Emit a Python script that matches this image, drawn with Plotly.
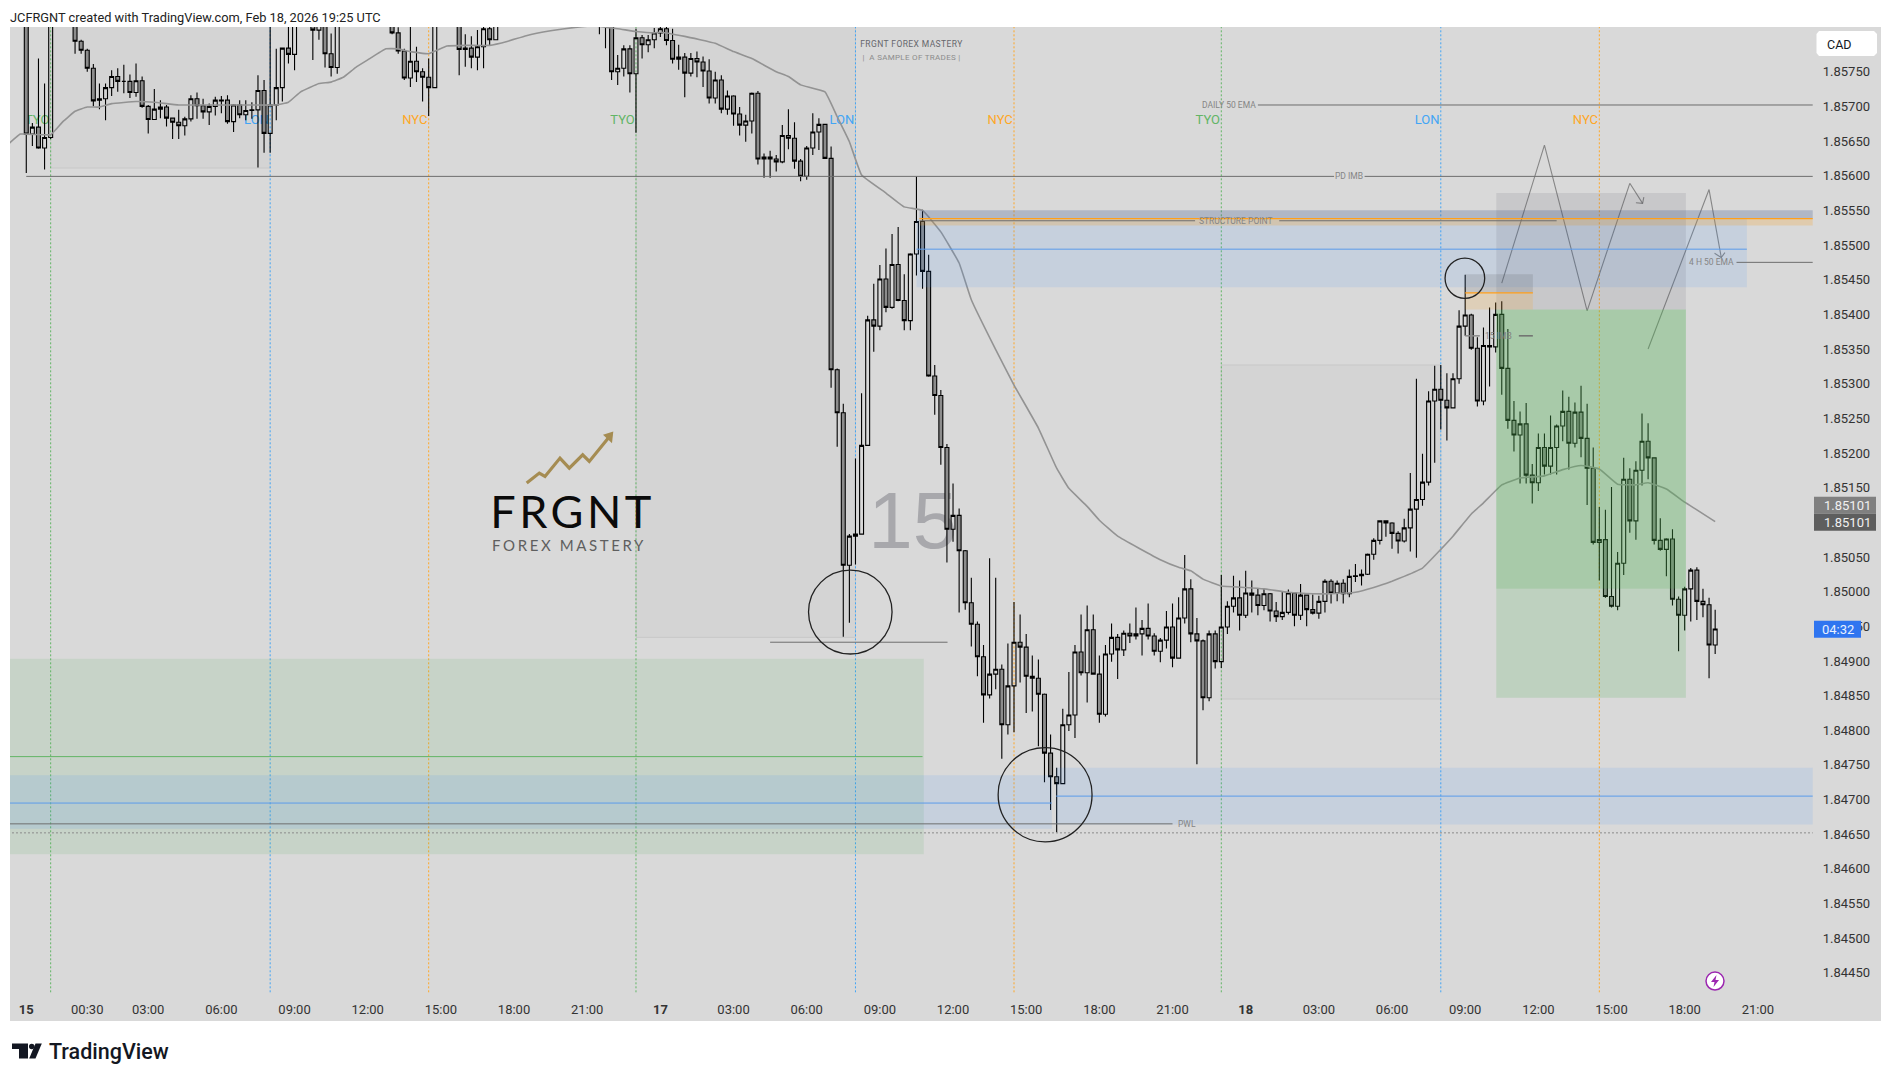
import pandas as pd
import plotly.graph_objects as go

# ---------- data ----------
opens = [1.85900,1.85660,1.85670,1.85640,1.85655,1.85850,1.85875,1.85860,1.85830,1.85794,
1.85781,1.85755,1.85709,1.85711,1.85727,1.85743,1.85736,1.85736,1.85720,1.85737,
1.85700,1.85681,1.85696,1.85699,1.85683,1.85677,1.85672,1.85682,1.85711,1.85701,
1.85692,1.85700,1.85709,1.85709,1.85678,1.85702,1.85688,1.85694,1.85695,1.85723,
1.85661,1.85702,1.85727,1.85784,1.85775,1.85850,1.85870,1.85840,1.85810,1.85825,
1.85776,1.85756,1.85830,1.85850,1.85870,1.85880,1.85875,1.85885,1.85870,1.85860,
1.85840,1.85806,1.85780,1.85741,1.85765,1.85750,1.85742,1.85727,1.85860,1.85875,
1.85860,1.85840,1.85782,1.85784,1.85771,1.85786,1.85812,1.85796,1.85830,1.85850,
1.85865,1.85880,1.85890,1.85885,1.85900,1.85910,1.85905,1.85920,1.85915,1.85900,
1.85905,1.85890,1.85880,1.85875,1.85870,1.85860,1.85850,1.85750,1.85755,1.85783,
1.85747,1.85799,1.85789,1.85796,1.85806,1.85812,1.85795,1.85768,1.85771,1.85748,
1.85769,1.85764,1.85751,1.85712,1.85738,1.85696,1.85715,1.85689,1.85673,1.85679,
1.85719,1.85624,1.85627,1.85624,1.85620,1.85658,1.85654,1.85621,1.85599,1.85640,
1.85663,1.85674,1.85625,1.85320,1.85258,1.85038,1.85080,1.85083,1.85211,1.85392,
1.85383,1.85451,1.85410,1.85472,1.85420,1.85391,1.85487,1.85534,1.85462,1.85311,
1.85283,1.85208,1.85090,1.85110,1.85059,1.84984,1.84953,1.84906,1.84851,1.84881,
1.84888,1.84808,1.84864,1.84927,1.84920,1.84878,1.84875,1.84852,1.84767,1.84733,
1.84723,1.84808,1.84822,1.84913,1.84883,1.84945,1.84881,1.84823,1.84910,1.84934,
1.84916,1.84940,1.84936,1.84939,1.84947,1.84936,1.84914,1.84930,1.84949,1.84904,
1.84962,1.85004,1.84939,1.84929,1.84847,1.84939,1.84899,1.84949,1.84979,1.84991,
1.84966,1.84998,1.84995,1.84980,1.84997,1.84972,1.84964,1.84970,1.84998,1.84966,
1.84995,1.84974,1.84969,1.84986,1.85015,1.84998,1.85012,1.84997,1.85022,1.85023,
1.85025,1.85054,1.85074,1.85099,1.85099,1.85084,1.85073,1.85092,1.85119,1.85133,
1.85158,1.85275,1.85292,1.85276,1.85265,1.85307,1.85383,1.85399,1.85351,1.85275,
1.85353,1.85353,1.85400,1.85322,1.85247,1.85226,1.85242,1.85168,1.85157,1.85208,
1.85181,1.85208,1.85239,1.85260,1.85214,1.85259,1.85221,1.85178,1.85071,1.85075,
1.84993,1.84979,1.85041,1.85162,1.85102,1.85175,1.85217,1.85193,1.85074,1.85061,
1.85076,1.84989,1.84966,1.85004,1.85031,1.84986,1.84981,1.84923]

closes = [1.85660,1.85670,1.85640,1.85655,1.85850,1.85875,1.85860,1.85830,1.85794,1.85781,
1.85755,1.85708,1.85711,1.85727,1.85743,1.85736,1.85736,1.85720,1.85737,1.85700,
1.85681,1.85696,1.85699,1.85683,1.85677,1.85672,1.85682,1.85711,1.85701,1.85692,
1.85700,1.85709,1.85708,1.85678,1.85702,1.85688,1.85694,1.85695,1.85723,1.85661,
1.85702,1.85727,1.85784,1.85775,1.85850,1.85870,1.85840,1.85810,1.85825,1.85776,
1.85756,1.85830,1.85850,1.85870,1.85880,1.85875,1.85885,1.85870,1.85860,1.85840,
1.85806,1.85780,1.85741,1.85765,1.85750,1.85742,1.85727,1.85860,1.85875,1.85860,
1.85840,1.85782,1.85784,1.85771,1.85786,1.85812,1.85796,1.85830,1.85850,1.85865,
1.85880,1.85890,1.85885,1.85900,1.85910,1.85905,1.85920,1.85915,1.85900,1.85905,
1.85890,1.85880,1.85875,1.85870,1.85860,1.85850,1.85750,1.85755,1.85783,1.85747,
1.85799,1.85789,1.85796,1.85806,1.85812,1.85795,1.85768,1.85771,1.85748,1.85769,
1.85764,1.85751,1.85712,1.85738,1.85696,1.85715,1.85689,1.85673,1.85679,1.85719,
1.85624,1.85627,1.85624,1.85620,1.85658,1.85654,1.85621,1.85599,1.85640,1.85663,
1.85674,1.85625,1.85320,1.85258,1.85038,1.85080,1.85083,1.85211,1.85392,1.85383,
1.85451,1.85410,1.85472,1.85420,1.85391,1.85487,1.85534,1.85462,1.85311,1.85283,
1.85208,1.85090,1.85110,1.85059,1.84984,1.84953,1.84906,1.84851,1.84881,1.84888,
1.84808,1.84864,1.84927,1.84920,1.84878,1.84875,1.84852,1.84767,1.84733,1.84723,
1.84808,1.84822,1.84913,1.84883,1.84945,1.84881,1.84823,1.84910,1.84934,1.84916,
1.84940,1.84936,1.84939,1.84947,1.84936,1.84914,1.84930,1.84949,1.84904,1.84962,
1.85004,1.84939,1.84929,1.84847,1.84939,1.84899,1.84949,1.84979,1.84991,1.84966,
1.84998,1.84995,1.84980,1.84997,1.84972,1.84964,1.84970,1.84998,1.84966,1.84995,
1.84974,1.84969,1.84986,1.85015,1.84998,1.85012,1.84997,1.85022,1.85023,1.85025,
1.85054,1.85074,1.85102,1.85102,1.85084,1.85073,1.85092,1.85119,1.85133,1.85158,
1.85275,1.85292,1.85276,1.85265,1.85307,1.85383,1.85399,1.85351,1.85275,1.85355,
1.85355,1.85400,1.85322,1.85247,1.85226,1.85242,1.85168,1.85157,1.85208,1.85181,
1.85208,1.85239,1.85260,1.85214,1.85259,1.85221,1.85178,1.85071,1.85075,1.84993,
1.84979,1.85041,1.85162,1.85102,1.85175,1.85217,1.85193,1.85074,1.85061,1.85076,
1.84989,1.84966,1.85004,1.85031,1.84986,1.84981,1.84923,1.84946]

highs = [1.85910,1.85676,1.85769,1.85733,1.85870,1.85890,1.85895,1.85870,1.85850,1.85796,
1.85783,1.85761,1.85733,1.85733,1.85752,1.85755,1.85760,1.85746,1.85762,1.85743,
1.85702,1.85725,1.85709,1.85702,1.85684,1.85695,1.85685,1.85716,1.85720,1.85711,
1.85704,1.85714,1.85715,1.85716,1.85703,1.85709,1.85709,1.85706,1.85745,1.85738,
1.85840,1.85783,1.85785,1.85840,1.85860,1.85885,1.85875,1.85850,1.85840,1.85840,
1.85805,1.85845,1.85860,1.85880,1.85895,1.85890,1.85895,1.85890,1.85875,1.85870,
1.85850,1.85814,1.85783,1.85815,1.85786,1.85755,1.85769,1.85870,1.85885,1.85880,
1.85870,1.85850,1.85804,1.85801,1.85810,1.85830,1.85820,1.85840,1.85860,1.85875,
1.85890,1.85900,1.85900,1.85910,1.85920,1.85920,1.85930,1.85930,1.85925,1.85915,
1.85915,1.85900,1.85890,1.85885,1.85880,1.85870,1.85860,1.85774,1.85788,1.85788,
1.85812,1.85803,1.85803,1.85813,1.85820,1.85820,1.85812,1.85789,1.85777,1.85777,
1.85779,1.85772,1.85768,1.85750,1.85745,1.85723,1.85716,1.85699,1.85688,1.85720,
1.85722,1.85632,1.85636,1.85630,1.85673,1.85696,1.85677,1.85624,1.85643,1.85690,
1.85683,1.85675,1.85642,1.85322,1.85271,1.85083,1.85192,1.85286,1.85398,1.85444,
1.85471,1.85495,1.85516,1.85526,1.85458,1.85488,1.85599,1.85551,1.85486,1.85327,
1.85291,1.85213,1.85156,1.85120,1.85060,1.85020,1.84957,1.84923,1.85048,1.85020,
1.84895,1.84925,1.84985,1.84967,1.84939,1.84908,1.84902,1.84853,1.84794,1.84746,
1.84831,1.84884,1.84923,1.84967,1.84980,1.84967,1.84908,1.84923,1.84954,1.84939,
1.84944,1.84954,1.84977,1.84959,1.84983,1.84940,1.84933,1.84972,1.84983,1.84992,
1.85053,1.85018,1.84962,1.84931,1.84944,1.84944,1.85024,1.84986,1.85023,1.85016,
1.85030,1.85016,1.85005,1.85004,1.84998,1.84985,1.85001,1.85003,1.84999,1.85011,
1.84996,1.84996,1.84994,1.85018,1.85018,1.85016,1.85018,1.85032,1.85040,1.85032,
1.85055,1.85077,1.85103,1.85103,1.85100,1.85087,1.85105,1.85171,1.85307,1.85199,
1.85289,1.85326,1.85327,1.85315,1.85315,1.85406,1.85457,1.85401,1.85367,1.85381,
1.85410,1.85417,1.85419,1.85379,1.85275,1.85260,1.85272,1.85184,1.85228,1.85228,
1.85254,1.85241,1.85290,1.85281,1.85273,1.85297,1.85271,1.85208,1.85122,1.85118,
1.85151,1.85057,1.85193,1.85178,1.85188,1.85257,1.85243,1.85194,1.85106,1.85077,
1.85090,1.84993,1.85007,1.85034,1.85035,1.85004,1.84991,1.84974]

lows = [1.85604,1.85643,1.85639,1.85609,1.85653,1.85835,1.85850,1.85816,1.85776,1.85776,
1.85750,1.85700,1.85696,1.85680,1.85715,1.85721,1.85719,1.85712,1.85714,1.85698,
1.85661,1.85681,1.85683,1.85671,1.85653,1.85653,1.85658,1.85678,1.85682,1.85682,
1.85673,1.85687,1.85690,1.85675,1.85663,1.85683,1.85680,1.85682,1.85612,1.85633,
1.85633,1.85680,1.85707,1.85762,1.85752,1.85835,1.85830,1.85767,1.85796,1.85756,
1.85743,1.85747,1.85820,1.85840,1.85860,1.85865,1.85870,1.85860,1.85850,1.85830,
1.85804,1.85776,1.85738,1.85728,1.85735,1.85707,1.85686,1.85727,1.85850,1.85850,
1.85830,1.85745,1.85757,1.85755,1.85752,1.85755,1.85787,1.85796,1.85825,1.85840,
1.85855,1.85870,1.85875,1.85875,1.85890,1.85895,1.85895,1.85905,1.85890,1.85890,
1.85880,1.85870,1.85865,1.85860,1.85804,1.85784,1.85738,1.85731,1.85743,1.85720,
1.85662,1.85769,1.85778,1.85784,1.85800,1.85788,1.85762,1.85753,1.85713,1.85743,
1.85742,1.85728,1.85704,1.85704,1.85690,1.85688,1.85672,1.85658,1.85649,1.85661,
1.85616,1.85597,1.85597,1.85606,1.85618,1.85638,1.85610,1.85592,1.85594,1.85630,
1.85637,1.85624,1.85294,1.85209,1.84935,1.84955,1.85039,1.85082,1.85210,1.85346,
1.85377,1.85403,1.85408,1.85419,1.85377,1.85377,1.85456,1.85437,1.85310,1.85255,
1.85183,1.85042,1.85072,1.84970,1.84974,1.84921,1.84878,1.84811,1.84846,1.84859,
1.84759,1.84794,1.84797,1.84869,1.84825,1.84827,1.84777,1.84725,1.84685,1.84653,
1.84722,1.84799,1.84789,1.84879,1.84840,1.84880,1.84811,1.84820,1.84899,1.84874,
1.84907,1.84926,1.84931,1.84908,1.84931,1.84908,1.84898,1.84918,1.84891,1.84903,
1.84954,1.84927,1.84751,1.84829,1.84842,1.84889,1.84890,1.84939,1.84970,1.84944,
1.84962,1.84970,1.84966,1.84973,1.84957,1.84956,1.84959,1.84967,1.84950,1.84959,
1.84950,1.84967,1.84961,1.84970,1.84983,1.84986,1.84983,1.84992,1.85014,1.85009,
1.85024,1.85046,1.85068,1.85079,1.85062,1.85055,1.85071,1.85058,1.85049,1.85124,
1.85153,1.85186,1.85234,1.85218,1.85264,1.85300,1.85369,1.85349,1.85267,1.85269,
1.85296,1.85345,1.85284,1.85235,1.85202,1.85156,1.85156,1.85127,1.85145,1.85169,
1.85169,1.85169,1.85217,1.85176,1.85208,1.85194,1.85125,1.85068,1.85016,1.84991,
1.84977,1.84973,1.85024,1.85085,1.85075,1.85153,1.85162,1.85068,1.85059,1.85022,
1.84980,1.84914,1.84944,1.84957,1.84959,1.84963,1.84875,1.84910]

ema_bars = [-3,-1,0,3,4,6,8,10,12,14,18,21,25,30,37,41,43,45,48,50,52,54,56,59,61,63,66,69,72,76,79,82,86,90,93,97,
100,103,104,108,113,116,119,123,125,127,131,133,135,137,141,144,147,150,153,155,159,162,166,169,171,174,176,179,
186,189,191,193,196,200,203,207,211,214,218,221,224,226,229,232,234,237,239,242,245,249,252,255,258,261,264,266,269,272,274,277]
ema_values = [1.85645,1.85660,1.85660,1.85659,1.85659,1.85678,1.85693,1.85699,1.85699,1.85704,1.85707,1.85706,1.85702,1.85702,1.85702,1.85702,1.85706,1.85721,1.85733,1.85735,1.85742,1.85756,1.85767,1.85783,1.85783,1.85779,1.85776,1.85787,1.85788,1.85788,1.85794,1.85802,1.85809,1.85814,1.85816,1.85812,
1.85808,1.85806,1.85807,1.85801,1.85791,1.85779,1.85769,1.85750,1.85743,1.85731,1.85721,1.85685,1.85649,1.85601,1.85575,1.85555,1.85550,1.85519,1.85474,1.85421,1.85349,1.85298,1.85236,1.85178,1.85149,1.85123,1.85103,1.85080,
1.85046,1.85035,1.85030,1.85018,1.85008,1.85006,1.85004,1.84999,1.84997,1.84997,1.84999,1.85006,1.85015,1.85022,1.85034,1.85061,1.85080,1.85112,1.85128,1.85154,1.85164,1.85167,1.85176,1.85182,1.85177,1.85155,1.85154,1.85157,1.85148,1.85129,1.85118,1.85101]

price_ticks = [1.84450,1.84500,1.84550,1.84600,1.84650,1.84700,1.84750,1.84800,1.84850,1.84900,1.84950,1.85000,1.85050,
               1.85150,1.85200,1.85250,1.85300,1.85350,1.85400,1.85450,1.85500,1.85550,1.85600,1.85650,1.85700,1.85750]
time_ticks = ["2026-02-15 22:00","2026-02-16 00:30","2026-02-16 03:00","2026-02-16 06:00","2026-02-16 09:00","2026-02-16 12:00",
              "2026-02-16 15:00","2026-02-16 18:00","2026-02-16 21:00","2026-02-17 00:00","2026-02-17 03:00","2026-02-17 06:00",
              "2026-02-17 09:00","2026-02-17 12:00","2026-02-17 15:00","2026-02-17 18:00","2026-02-17 21:00","2026-02-18 00:00",
              "2026-02-18 03:00","2026-02-18 06:00","2026-02-18 09:00","2026-02-18 12:00","2026-02-18 15:00","2026-02-18 18:00","2026-02-18 21:00"]
time_labels = ["<b>15</b>","00:30","03:00","06:00","09:00","12:00","15:00","18:00","21:00","<b>17</b>","03:00","06:00",
               "09:00","12:00","15:00","18:00","21:00","<b>18</b>","03:00","06:00","09:00","12:00","15:00","18:00","21:00"]

# ---------- geometry of the page ----------
PL, PR, PT, PB = 10, 1881, 27, 1021.5
BAR_LEFT, BAR_RIGHT = -2.67, 304.2
Y_TOP, Y_BOTTOM = 1.858145, 1.843806
FONT = "Roboto"
BG = "#d9d9d9"

start = pd.Timestamp("2026-02-15 22:00")
times = pd.date_range(start, periods=len(closes), freq="15min")
def T(b):
    return start + pd.Timedelta(minutes=15 * b)
def px(x):
    return (x - PL) / (PR - PL)
def py(y):
    return (PB - y) / (PB - PT)
def ppath(points, close=False):
    s = "M" + " L".join(f"{px(a):.5f},{py(b):.5f}" for a, b in points)
    return s + (" Z" if close else "")

shapes, notes = [], []
def hline(b0, b1, p, color, width=1, dash="solid", layer="above"):
    shapes.append(dict(type="line", x0=T(b0), x1=T(b1), y0=p, y1=p, layer=layer,
                       line=dict(color=color, width=width, dash=dash)))
def zone(b0, b1, p0, p1, fill, line=None, layer="above"):
    shapes.append(dict(type="rect", x0=T(b0), x1=T(b1), y0=p0, y1=p1, layer=layer, fillcolor=fill,
                       line=dict(width=1 if line else 0, color=line or "rgba(0,0,0,0)")))
def circle(b0, b1, p0, p1):
    shapes.append(dict(type="circle", x0=T(b0), x1=T(b1), y0=p0, y1=p1, layer="above",
                       fillcolor="rgba(0,0,0,0)", line=dict(color="#222222", width=1.3)))
def note(text, x, y, size, color, anchor="center", family=FONT, weight=None):
    f = dict(size=size, color=color, family=family)
    if weight:
        f["weight"] = weight
    notes.append(dict(text=text, xref="paper", yref="paper", x=px(x), y=py(y), xanchor=anchor, yanchor="middle",
                      showarrow=False, font=f, borderpad=0, borderwidth=0))
def dnote(text, b, p, size=8.5, color="#858585"):
    notes.append(dict(text=text, x=T(b), y=p, xref="x", yref="y", showarrow=False,
                      font=dict(size=size, color=color, family=FONT), xanchor="center", yanchor="middle"))

# session boxes
for b0, b1, p0, p1 in [(4, 40, 1.85611, Y_TOP + 0.001), (100, 136, 1.84934, Y_TOP + 0.001), (196, 232, 1.84845, 1.85327)]:
    zone(b0, b1, p0, p1, "rgba(0,0,0,0.018)", "rgba(0,0,0,0.07)", layer="below")

# session lines and names
session_names = [("TYO", 4, "#62b566"), ("LON", 40, "#42a5f5"), ("NYC", 66, "#ffa726"),
                 ("TYO", 100, "#62b566"), ("LON", 136, "#42a5f5"), ("NYC", 162, "#ffa726"),
                 ("TYO", 196, "#62b566"), ("LON", 232, "#42a5f5"), ("NYC", 258, "#ffa726")]
for name, bar, color in session_names:
    shapes.append(dict(type="line", x0=T(bar), x1=T(bar), y0=1.84422, y1=Y_TOP, layer="below",
                       line=dict(color=color, width=1, dash="2px,2px")))
    shapes.append(dict(type="rect", x0=T(bar - 8), x1=T(bar + 0.45), y0=1.85670, y1=1.85694, layer="below",
                       fillcolor="rgba(0,0,0,0)", line=dict(width=0),
                       label=dict(text=name, textposition="middle right", padding=1,
                                  font=dict(size=13, color=color, family=FONT))))

# watermark, below the candles
shapes.append(dict(type="rect", x0=T(136.4), x1=T(154.4), y0=1.85074, y1=1.85154, layer="below",
                   fillcolor="rgba(0,0,0,0)", line=dict(width=0),
                   label=dict(text="15", textposition="middle center", padding=0,
                              font=dict(size=80, color="#a8a8ac", family="Liberation Sans"))))

# zones
BLUE = "rgba(41,140,255,0.11)"
zone(-3, 147.2, 1.84621, 1.84903, "rgba(76,175,80,0.12)")
zone(-3, 168.2, 1.84658, 1.84735, BLUE)
zone(168.9, 293, 1.84664, 1.84746, BLUE)
zone(146, 282.2, 1.85439, 1.85538, BLUE)
zone(146.5, 293, 1.85538, 1.85550, "rgba(55,85,140,0.25)")
zone(146.5, 293, 1.85528, 1.85538, "rgba(255,152,0,0.2)")
zone(241.1, 272.2, 1.85004, 1.85407, "rgba(76,175,80,0.35)")
zone(241.1, 272.2, 1.84847, 1.85004, "rgba(76,175,80,0.19)")
zone(241.1, 272.2, 1.85407, 1.85575, "rgba(60,60,80,0.10)")
zone(236, 247.1, 1.85407, 1.85431, "rgba(255,152,0,0.15)")
zone(236, 247.1, 1.85431, 1.85458, "rgba(80,80,80,0.16)")

# horizontal levels
GREY = "#6e6e6e"
hline(-3, 147, 1.84762, "#62b566")
hline(-3, 168.2, 1.84695, "#5b9bea")
hline(168.9, 293, 1.84705, "#5b9bea")
hline(146, 282.2, 1.85494, "#5b9bea")
hline(146.5, 293, 1.85538, "#ff9f1a", 1.3)
hline(146.5, 191.7, 1.85535, GREY)
hline(205.5, 251, 1.85535, GREY)
hline(0, 214.5, 1.85599, GREY)
hline(219.5, 293, 1.85599, GREY)
hline(202, 293, 1.85702, GREY)
hline(280.5, 293, 1.85475, GREY)
hline(-3, 188, 1.84665, GREY)
hline(-3, 293, 1.84652, "#8a8a8a", 1, "2px,2px")
hline(122, 151.1, 1.84927, GREY)
hline(236, 238.4, 1.85369, "#8a8a8a", 1.5)
hline(244.8, 247.1, 1.85369, "#6f6f6f", 1.5)
hline(236, 247.1, 1.85431, "#ff9f1a", 1.3)

# circles
circle(128.3, 142.0, 1.84910, 1.85031)
circle(159.4, 174.8, 1.84639, 1.84775)
circle(232.7, 239.2, 1.85423, 1.85481)

# level labels
dnote("PD IMB", 216.9, 1.85599)
dnote("DAILY 50 EMA", 197.2, 1.85702)
dnote("STRUCTURE POINT", 198.4, 1.85535)
dnote("4 H 50 EMA", 276.4, 1.85475)
dnote("PWL", 190.3, 1.84665)
dnote("15 IMB", 241.5, 1.85369, 8.5, "#808080")
note("FRGNT FOREX MASTERY", 912, 44, 8.5, "#66666c")
note("|  A SAMPLE OF TRADES |", 911, 58, 8, "#8c8c8c")

# the FRGNT logo
shapes.append(dict(type="path", xref="paper", yref="paper", layer="below", line=dict(color="#a58c52", width=3.2),
                   path=ppath([(526.7, 483.3), (539.3, 473.3), (545, 476.7), (560, 458.3), (569.3, 468.3),
                               (582.7, 455), (589.3, 461.7), (608.3, 438.3)])))
shapes.append(dict(type="path", xref="paper", yref="paper", layer="below", fillcolor="#a58c52", line=dict(width=0),
                   path=ppath([(613.3, 431.7), (603, 435), (612, 443.5)], True)))
note("FRGNT", 572.5, 511, 45, "#0b0b0b", family="Lato")
note("FOREX MASTERY", 569.5, 545.5, 15, "#5f5f5f", family="Lato")

# price-scale tags and the currency button
for x0, x1, y0, y1, col in [(1814, 1876, 497, 514, "#808080"), (1814, 1876, 514, 531, "#5e5e5e"), (1814, 1861, 621, 638, "#2f75f0")]:
    shapes.append(dict(type="rect", xref="paper", yref="paper", layer="above", x0=px(x0), x1=px(x1), y0=py(y0), y1=py(y1),
                       fillcolor=col, line=dict(width=0)))
shapes.append(dict(type="path", xref="paper", yref="paper", layer="above", fillcolor="#ffffff", line=dict(width=0),
                   path=ppath([(1819, 31), (1874, 31), (1877, 34), (1877, 53), (1874, 56), (1819, 56), (1816.5, 53), (1816.5, 34)], True)))
note("1.85101", 1871, 505.5, 13, "#f0f0f0", "right")
note("1.85101", 1871, 522.5, 13, "#f0f0f0", "right")
note("04:32", 1838, 629.5, 13, "#e8f0ff")
note("CAD", 1827, 44.5, 12.5, "#131722", "left")

# lightning badge
shapes.append(dict(type="circle", xref="paper", yref="paper", layer="above", x0=px(1706), x1=px(1724), y0=py(990.5), y1=py(972.5),
                   fillcolor="#ffffff", line=dict(color="#9c27b0", width=1.5)))
shapes.append(dict(type="path", xref="paper", yref="paper", layer="above", fillcolor="#9c27b0", line=dict(width=0),
                   path=ppath([(1716.5, 975.5), (1711, 982.5), (1714.5, 982.5), (1713.5, 987.5), (1719, 980.5), (1715.5, 980.5)], True)))

# header, footer
note("JCFRGNT created with TradingView.com, Feb 18, 2026 19:25 UTC", 10, 17.3, 12.8, "#222222", "left")
note("TradingView", 48.5, 1052, 21.5, "#131722", "left", weight=500)
for pts in ([(12, 1044), (28, 1044), (28, 1059), (19, 1059), (19, 1049.5), (12, 1049.5)],
            [(35.5, 1044), (41.8, 1044), (35.5, 1059), (29.2, 1059)]):
    shapes.append(dict(type="path", xref="paper", yref="paper", layer="above", fillcolor="#131722", line=dict(width=0),
                       path=ppath(pts, True)))
shapes.append(dict(type="circle", xref="paper", yref="paper", layer="above", x0=px(29), x1=px(34.5), y0=py(1049.8), y1=py(1044.3),
                   fillcolor="#131722", line=dict(width=0)))

# ---------- figure ----------
fig = go.Figure()
fig.add_trace(go.Candlestick(
    x=times, open=opens, high=highs, low=lows, close=closes, whiskerwidth=0,
    increasing=dict(line=dict(color="#000000", width=1.1), fillcolor="rgba(0,0,0,0)"),
    decreasing=dict(line=dict(color="#000000", width=1.1), fillcolor="#8c8c8c"),
    hoverinfo="skip", showlegend=False))
fig.add_trace(go.Scatter(x=[T(b) for b in ema_bars], y=ema_values, mode="lines", hoverinfo="skip", showlegend=False,
                         line=dict(color="#939393", width=1.6, shape="spline", smoothing=0.3)))
# hand-drawn projection paths
path_a_bars = [242, 249, 256, 263, 265.1]
path_a_prices = [1.85445, 1.85644, 1.85405, 1.85589, 1.85560]
head_a_bars = [265.3, 265.1, 264]
head_a_prices = [1.85569, 1.85560, 1.85561]
path_b_bars = [266, 276, 278]
path_b_prices = [1.85350, 1.85580, 1.85482]
head_b_bars = [276.9, 278, 278.6]
head_b_prices = [1.85488, 1.85482, 1.85489]
for bars, prices in [(path_a_bars, path_a_prices), (head_a_bars, head_a_prices), (path_b_bars, path_b_prices), (head_b_bars, head_b_prices)]:
    fig.add_trace(go.Scatter(x=[T(b) for b in bars], y=prices, mode="lines", hoverinfo="skip", showlegend=False,
                             line=dict(color="rgba(105,105,105,0.75)", width=1.1)))

fig.update_layout(
    width=1891, height=1082, autosize=False, margin=dict(l=PL, r=1891 - PR, t=PT, b=1082 - PB, pad=0),
    paper_bgcolor="#ffffff", plot_bgcolor=BG, showlegend=False, hovermode=False,
    font=dict(family=FONT, size=13, color="#3c3c3c"),
    shapes=shapes, annotations=notes, boxgap=0.25, boxgroupgap=0.14,
    xaxis=dict(type="date", range=[T(BAR_LEFT), T(BAR_RIGHT)], rangeslider=dict(visible=False), showgrid=False, zeroline=False,
               tickmode="array", tickvals=time_ticks, ticktext=time_labels, ticks="", ticklabelposition="inside",
               ticklabelstandoff=1, showline=False, tickfont=dict(family=FONT, size=13, color="#333333")),
    yaxis=dict(range=[Y_BOTTOM, Y_TOP], side="right", showgrid=False, zeroline=False, tickmode="array", tickvals=price_ticks,
               ticktext=[f"{v:.5f}" for v in price_ticks], ticks="", ticklabelposition="inside", ticklabelstandoff=8,
               showline=False, tickfont=dict(family=FONT, size=13, color="#333333")),
)

spacing = """
document.documentElement.style.margin = '0';
document.body.style.margin = '0';
document.body.style.padding = '0';
var sp = {'FRGNT':'3.5px','FOREX MASTERY':'2.6px','FRGNT FOREX MASTERY':'0.4px','|  A SAMPLE OF TRADES |':'0.3px'};
document.querySelectorAll('.annotation-text').forEach(function(t){
  var k = t.textContent; if (sp[k]) { t.style.letterSpacing = sp[k]; }
});
"""
fig.write_html("out.html", post_script=spacing, config=dict(displayModeBar=False))
